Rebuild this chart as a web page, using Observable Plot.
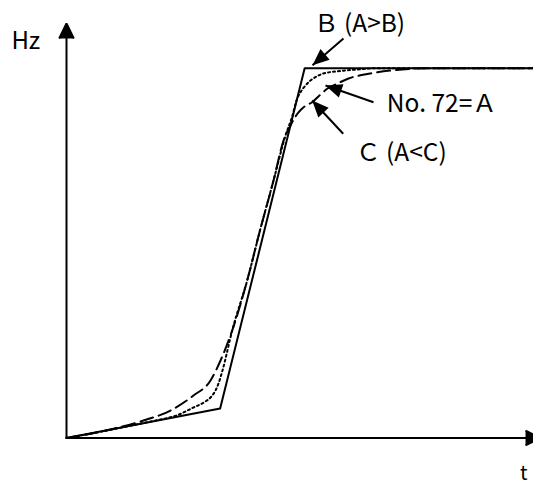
<!DOCTYPE html>
<html>
<head>
<meta charset="utf-8">
<script src="https://cdn.jsdelivr.net/npm/d3@7"></script>
<script src="https://cdn.jsdelivr.net/npm/@observablehq/plot@0.6"></script>
<style>
  html, body { margin: 0; padding: 0; background: #fff; }
</style>
</head>
<body>
<div id="chart"></div>
<script>
// Curve B (solid, piecewise linear)
const tB  = [0, 32.9, 51.0, 100];
const hzB = [0, 7.1, 89.2, 89.2];

// Curve A = No. 72 (dotted)
const tA  = [0, 9.42, 16.49, 20.13, 23.55, 27.19, 29.76, 30.84, 31.91, 32.55, 33.40, 35.48, 38.69, 41.43, 44.33, 46.90, 48.39, 49.25, 50.11, 51.18, 52.25, 53.53, 55.03, 58.67, 62.31, 66.60, 100];
const hzA = [0, 1.98, 3.62, 4.46, 5.43, 7.36, 8.81, 9.77, 11.46, 13.15, 16.28, 25.93, 37.99, 50.06, 62.12, 72.98, 77.80, 81.42, 83.43, 85.04, 86.25, 87.21, 87.94, 88.54, 88.90, 89.22, 89.22];

// Curve C (dashed)
const tC  = [0, 9.42, 16.49, 22.27, 27.19, 30.84, 32.98, 35.48, 38.69, 41.43, 44.33, 46.47, 47.97, 49.04, 49.68, 50.96, 52.61, 53.96, 55.82, 58.03, 60.39, 65.10, 69.38, 73.66, 77.94, 100];
const hzC = [0, 2.05, 4.22, 6.63, 10.25, 13.87, 18.70, 25.93, 37.99, 50.06, 62.12, 71.77, 75.39, 77.56, 78.53, 79.97, 81.01, 82.39, 84.25, 85.52, 86.73, 87.94, 88.66, 89.07, 89.22, 89.22];

// Annotation labels and pointer arrows
const labelText = ["Ｂ (A>B)", "No. 72=Ａ", "Ｃ (A<C)"];
const labelT    = [53.0, 68.6, 62.0];
const labelHz   = [99.76, 80.46, 68.64];
const arrowT1   = [59.31, 65.74, 59.25];
const arrowHz1  = [96.38, 81.01, 73.39];
const arrowT2   = [52.68, 55.46, 52.61];
const arrowHz2  = [89.93, 85.04, 81.42];

// Axis titles
const yTitle = "Hz", yTitleT = -11.8, yTitleHz = 95.8;
const xTitle = "t",  xTitleT = 97.9,  xTitleHz = -8.6;

const toPts = (xs, ys) => xs.map((x, i) => ({t: x, hz: ys[i]}));
const B = toPts(tB, hzB);
const A = toPts(tA, hzA);
const C = toPts(tC, hzC);
const labels = labelText.map((s, i) => ({s, t: labelT[i], hz: labelHz[i]}));
const pointers = arrowT1.map((x, i) => ({x1: x, y1: arrowHz1[i], x2: arrowT2[i], y2: arrowHz2[i]}));
// same direction, longer virtual tail so the filled head is not shrunk by the shaft length
const pointerHeads = pointers.map(d => ({x1: d.x2 + 4 * (d.x1 - d.x2), y1: d.y2 + 4 * (d.y1 - d.y2), x2: d.x2, y2: d.y2}));
const axes = [{x1: 0, y1: 0, x2: 0, y2: 100}, {x1: 0, y1: 0, x2: 101.5, y2: 0}];

const font = "'Noto Sans CJK JP', 'Noto Sans', sans-serif";

const chart = Plot.plot({
  width: 533,
  height: 481,
  marginLeft: 66,
  marginRight: 0,
  marginTop: 23,
  marginBottom: 43.5,
  x: {domain: [0, 100], axis: null},
  y: {domain: [0, 100], axis: null},
  style: {background: "#fff", color: "#000", fontFamily: font},
  marks: [
    Plot.arrow(axes, {x1: "x1", y1: "y1", x2: "x2", y2: "y2", stroke: "#000", fill: "#000",
      strokeWidth: 2, headLength: 12.5, headAngle: 52, strokeLinejoin: "miter", strokeLinecap: "butt"}),
    Plot.line(B, {x: "t", y: "hz", stroke: "#000", strokeWidth: 2}),
    Plot.line(C, {x: "t", y: "hz", stroke: "#000", strokeWidth: 2, strokeDasharray: "13,6", curve: "monotone-x"}),
    Plot.line(A, {x: "t", y: "hz", stroke: "#000", strokeWidth: 2, strokeDasharray: "2,3", curve: "monotone-x"}),
    Plot.arrow(pointers, {x1: "x1", y1: "y1", x2: "x2", y2: "y2", stroke: "#000",
      strokeWidth: 2, headLength: 0, strokeLinecap: "butt"}),
    Plot.arrow(pointerHeads, {x1: "x1", y1: "y1", x2: "x2", y2: "y2", stroke: "none", fill: "#000",
      strokeWidth: 2, headLength: 13.5, headAngle: 46}),
    Plot.text(labels, {x: "t", y: "hz", text: "s", textAnchor: "start", lineAnchor: "middle",
      fontSize: 24.5, fill: "#000"}),
    Plot.text([yTitle], {x: yTitleT, y: yTitleHz, text: d => d, textAnchor: "start", lineAnchor: "middle",
      fontSize: 24, fill: "#000"}),
    Plot.text([xTitle], {x: xTitleT, y: xTitleHz, text: d => d, textAnchor: "middle", lineAnchor: "middle",
      fontSize: 20, fill: "#000"})
  ]
});
document.getElementById("chart").appendChild(chart);
</script>
</body>
</html>
